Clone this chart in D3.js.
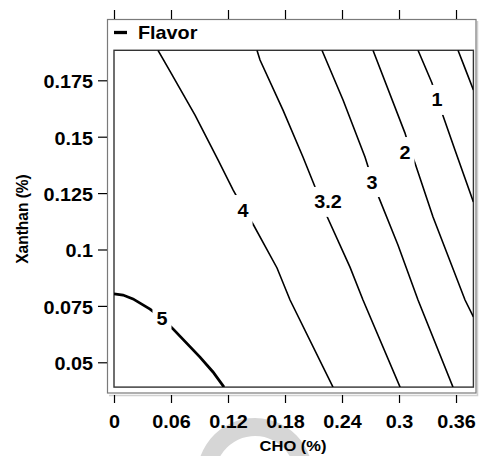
<!DOCTYPE html>
<html lang="en">
<head>
<meta charset="utf-8">
<title>Flavor contour</title>
<script src="https://d3js.org/d3.v7.min.js"></script>
<style>
body { margin: 0; background: #fff; }
text { font-family: Arial, "Liberation Sans", sans-serif; font-weight: bold; fill: #000; }
</style>
</head>
<body>
<script>
// axis ticks
var xTicks = [0, 0.06, 0.12, 0.18, 0.24, 0.3, 0.36];
var yTicks = [0.05, 0.075, 0.1, 0.125, 0.15, 0.175];

// contour lines, [CHO, Xanthan]
var line5 = [[0, 0.0803], [0.0095, 0.0798], [0.02, 0.0781], [0.0379, 0.0736], [0.0505, 0.0696], [0.0621, 0.0648], [0.0905, 0.0523], [0.1042, 0.0457], [0.1158, 0.039]];
var line4 = [[0.0463, 0.1883], [0.0589, 0.1791], [0.0853, 0.1596], [0.1095, 0.1397], [0.1253, 0.1264], [0.1358, 0.1185], [0.1463, 0.1113], [0.1716, 0.0918], [0.1853, 0.0776], [0.2305, 0.039]];
var line32 = [[0.1505, 0.1883], [0.1537, 0.184], [0.1779, 0.1618], [0.1989, 0.141], [0.2095, 0.1299], [0.2158, 0.1233], [0.2221, 0.1166], [0.2484, 0.0922], [0.2621, 0.0776], [0.3011, 0.039]];
var line3 = [[0.2189, 0.1883], [0.2411, 0.1663], [0.2642, 0.141], [0.2695, 0.1339], [0.2747, 0.1273], [0.2989, 0.102], [0.32, 0.0776], [0.3568, 0.039]];
var line2 = [[0.2726, 0.1883], [0.3063, 0.1516], [0.3116, 0.1441], [0.3168, 0.1383], [0.3358, 0.1144], [0.3695, 0.0776], [0.3783, 0.0701]];
var line1 = [[0.32, 0.1883], [0.3347, 0.1738], [0.34, 0.1663], [0.3453, 0.1605], [0.3589, 0.1441], [0.3783, 0.1211]];
var line0 = [[0.3621, 0.1883], [0.3695, 0.1803], [0.3783, 0.1707]];

// contour labels
var labelText = ["5", "4", "3.2", "3", "2", "1"];
var labelX = [0.0505, 0.1358, 0.2253, 0.2716, 0.3063, 0.34];
var labelY = [0.0696, 0.1175, 0.1211, 0.1299, 0.1432, 0.1663];

var width = 479, height = 456;
var sx = 1.1; // text looks a bit stretched sideways

var x = d3.scaleLinear().domain([0, 0.3783]).range([114, 473.4]);
var y = d3.scaleLinear().domain([0.039, 0.1883]).range([387.1, 50.3]);

var svg = d3.select("body").append("svg")
    .attr("width", width)
    .attr("height", height);

// faint watermark in the bottom area
svg.append("path")
    .attr("transform", "translate(255,476)")
    .attr("d", d3.arc().innerRadius(40).outerRadius(58).startAngle(-1.9).endAngle(1.7)())
    .attr("fill", "#d6d6d6");

// outer frame with light shadow
svg.append("path")
    .attr("d", "M109,395.5H477.5V21")
    .attr("fill", "none")
    .attr("stroke", "#d0d0d0")
    .attr("stroke-width", 1.5);
svg.append("rect")
    .attr("x", 107.5).attr("y", 19.5)
    .attr("width", 368.5).attr("height", 373.5)
    .attr("fill", "none")
    .attr("stroke", "#7a7a7a")
    .attr("stroke-width", 1.2);

// legend
svg.append("line")
    .attr("x1", 114).attr("x2", 127)
    .attr("y1", 32.5).attr("y2", 32.5)
    .attr("stroke", "#000")
    .attr("stroke-width", 3.3);
svg.append("text")
    .attr("transform", "translate(138,39) scale(" + sx + ",1)")
    .style("font-size", "18px")
    .text("Flavor");

// inner plot box
svg.append("clipPath").attr("id", "clip")
    .append("rect")
    .attr("x", x(0)).attr("y", y.range()[1])
    .attr("width", x.range()[1] - x(0))
    .attr("height", y.range()[0] - y.range()[1]);

svg.append("rect")
    .attr("x", x(0)).attr("y", y.range()[1])
    .attr("width", x.range()[1] - x(0))
    .attr("height", y.range()[0] - y.range()[1])
    .attr("fill", "#fff")
    .attr("stroke", "#333")
    .attr("stroke-width", 1.4);

// axes
var xAxisG = svg.append("g")
    .attr("transform", "translate(0,395)")
    .call(d3.axisBottom(x).tickValues(xTicks).tickSize(8).tickSizeOuter(0)
        .tickFormat(function (d) { return d3.format("")(+d.toFixed(2)); }));
xAxisG.select(".domain").remove();
xAxisG.selectAll("text")
    .attr("y", 0).attr("dy", 0)
    .attr("transform", "translate(0,33) scale(" + sx + ",1)")
    .style("font-size", "18px");

var xTopG = svg.append("g")
    .attr("transform", "translate(0,19)")
    .call(d3.axisTop(x).tickValues(xTicks).tickSize(9).tickSizeOuter(0).tickFormat(""));
xTopG.select(".domain").remove();

var yAxisG = svg.append("g")
    .attr("transform", "translate(107,0)")
    .call(d3.axisLeft(y).tickValues(yTicks).tickSize(9).tickSizeOuter(0)
        .tickFormat(function (d) { return d3.format("")(+d.toFixed(3)); }));
yAxisG.select(".domain").remove();
yAxisG.selectAll("text")
    .attr("x", 0).attr("dy", 0)
    .attr("transform", "translate(-14,7.5) scale(" + sx + ",1)")
    .style("font-size", "18px");

svg.selectAll(".tick line").attr("stroke", "#000").attr("stroke-width", 1.2);

// axis titles
svg.append("text")
    .attr("transform", "translate(28,219) rotate(-90) scale(1," + sx + ")")
    .attr("text-anchor", "middle")
    .style("font-size", "15.5px")
    .text("Xanthan (%)");
svg.append("text")
    .attr("transform", "translate(293,451) scale(" + sx + ",1)")
    .attr("text-anchor", "middle")
    .style("font-size", "15px")
    .text("CHO (%)");

// contour lines
var lines = [line5, line4, line32, line3, line2, line1, line0];
var path = d3.line()
    .x(function (d) { return x(d[0]); })
    .y(function (d) { return y(d[1]); });

var plot = svg.append("g").attr("clip-path", "url(#clip)");
plot.selectAll(".contour")
    .data(lines)
    .enter().append("path")
    .attr("class", "contour")
    .attr("d", path)
    .attr("fill", "none")
    .attr("stroke", "#000")
    .attr("stroke-width", function (d, i) { return i == 0 ? 2.8 : 1.6; });

// labels, with a white gap cut into the line
var labels = plot.selectAll(".lab")
    .data(labelText)
    .enter().append("g")
    .attr("class", "lab")
    .attr("transform", function (d, i) { return "translate(" + x(labelX[i]) + "," + y(labelY[i]) + ")"; });
labels.append("rect")
    .attr("x", function (d) { return -(d.length * 5.5 + 4); })
    .attr("width", function (d) { return d.length * 11 + 8; })
    .attr("y", -15).attr("height", 30)
    .attr("fill", "#fff");
labels.append("text")
    .attr("text-anchor", "middle")
    .attr("transform", "translate(0,6.5) scale(" + sx + ",1)")
    .style("font-size", "18px")
    .text(function (d) { return d; });
</script>
</body>
</html>
